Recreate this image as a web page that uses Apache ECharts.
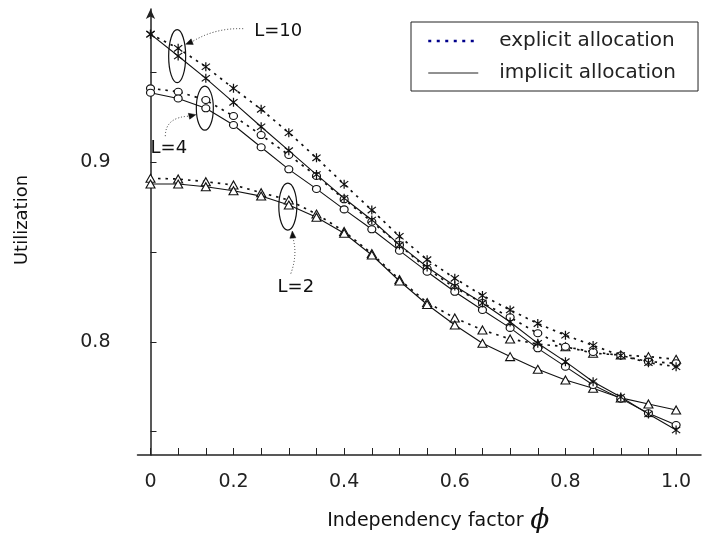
<!DOCTYPE html>
<html><head><meta charset="utf-8">
<script src="https://cdn.jsdelivr.net/npm/echarts@6/dist/echarts.min.js"></script>
<style>html,body{margin:0;padding:0;background:#fff}#c{width:709px;height:533px}</style>
</head><body><div id="c"></div>
<script>
// sample positions along the x axis (one tick per sample)
const samples = [0,1,2,3,4,5,6,7,8,9,10,11,12,13,14,15,16,17,18,19];
const xTickLabels = ['0','0.2','0.4','0.6','0.8','1.0'];
const xTickLabelAt = [0,3,7,11,15,19];
const yTicks = [0.75,0.8,0.85,0.9,0.95];
const yTickLabels = [0.8,0.9];

const l10Explicit = [0.9714,0.9635,0.9532,0.9412,0.9295,0.9165,0.9025,0.8878,0.8734,0.8588,0.8458,0.8354,0.8258,0.8178,0.8102,0.8037,0.7980,0.7924,0.7884,0.7862];
const l10Implicit = [0.9714,0.9592,0.9468,0.9334,0.9198,0.9065,0.8932,0.8800,0.8679,0.8540,0.8417,0.8311,0.8217,0.8111,0.7992,0.7890,0.7778,0.7693,0.7598,0.7509];
const l4Explicit  = [0.9412,0.9393,0.9347,0.9258,0.9152,0.9041,0.8924,0.8794,0.8669,0.8540,0.8407,0.8302,0.8217,0.8137,0.8048,0.7973,0.7944,0.7924,0.7890,0.7881];
const l4Implicit  = [0.9388,0.9356,0.9301,0.9208,0.9084,0.8961,0.8852,0.8738,0.8627,0.8508,0.8391,0.8279,0.8178,0.8078,0.7964,0.7862,0.7760,0.7684,0.7602,0.7537];
const l2Explicit  = [0.8911,0.8907,0.8892,0.8874,0.8831,0.8790,0.8712,0.8615,0.8492,0.8347,0.8219,0.8133,0.8066,0.8016,0.7988,0.7973,0.7937,0.7927,0.7918,0.7903];
const l2Implicit  = [0.8879,0.8879,0.8864,0.8842,0.8812,0.8762,0.8694,0.8605,0.8484,0.8339,0.8208,0.8094,0.7992,0.7918,0.7847,0.7788,0.7742,0.7688,0.7654,0.7621];

const seriesNames = ['explicit allocation','implicit allocation'];
const groupLabels = ['L=10','L=4','L=2'];

const FONT = 'DejaVu Sans';
const INK = '#111';
const asterisk = 'path://M4.4 0H5.6V10H4.4Z M1.395 1.049L9.395 8.049L8.605 8.951L0.605 1.951Z M0.605 8.049L8.605 1.049L9.395 1.951L1.395 8.951Z';

function mk(name, vals, symbol, size, dashed, hollow){
  return {
    name: name, type:'line', data: samples.map((k,i)=>[k, vals[i]]),
    symbol: symbol, symbolSize: size, showAllSymbol: true,
    lineStyle: {color: INK, width: dashed ? 1.7 : 1.1, type: dashed ? [2.5,5] : 'solid'},
    itemStyle: hollow ? {color:'#fff', borderColor: INK, borderWidth: 1.1} : {color: INK},
    emphasis: {disabled: true}, animation: false
  };
}

const chart = echarts.init(document.getElementById('c'), null, {renderer:'canvas'});
chart.setOption({
  backgroundColor:'#fff',
  animation:false,
  grid:{left:137.5, right:8, top:9, bottom:78, containLabel:false, outerBoundsMode:'none'},
  legend:{
    orient:'vertical', left:411, top:22,
    padding:[9,22,8,16], itemWidth:50, itemHeight:14, itemGap:12,
    borderColor:'#222', borderWidth:1,
    itemStyle:{opacity:0},
    textStyle:{fontFamily:FONT, fontSize:20, color:'#222', padding:[0,0,0,16]},
    selectedMode:false,
    data:[
      {name:seriesNames[0], lineStyle:{color:'#00008b', type:[3,5.5], width:2.5}},
      {name:seriesNames[1], lineStyle:{color:'#222', type:'solid', width:1}}
    ]
  },
  xAxis:{
    type:'value', min:-0.47, max:19.9,
    name:'{t|Independency factor}  {p|ϕ}', nameLocation:'middle', nameGap:52,
    nameTextStyle:{padding:[0,0,0,38], rich:{
      t:{fontFamily:FONT, fontSize:19, color:'#111'},
      p:{fontFamily:'DejaVu Serif', fontStyle:'italic', fontSize:28, color:'#111'}
    }},
    axisLine:{lineStyle:{color:'#222', width:1.5}},
    axisTick:{inside:true, length:7, customValues:samples, lineStyle:{color:'#222', width:1}},
    axisLabel:{customValues:xTickLabelAt, margin:18, fontFamily:FONT, fontSize:19, color:'#222',
      formatter:(v)=>{const i = xTickLabelAt.indexOf(Math.round(v)); return i>=0 ? xTickLabels[i] : '';}},
    splitLine:{show:false}
  },
  yAxis:{
    type:'value', min:0.737, max:0.9854,
    name:'Utilization', nameLocation:'middle', nameGap:106, nameRotate:90,
    nameTextStyle:{fontFamily:FONT, fontSize:18, color:'#111', padding:[0,0,0,24]},
    axisLine:{show:true, symbol:['none','arrow'], symbolSize:[7,10], lineStyle:{color:'#222', width:1.5}},
    axisTick:{inside:true, length:6, customValues:yTicks, lineStyle:{color:'#222', width:1}},
    axisLabel:{customValues:yTickLabels, margin:27, fontFamily:FONT, fontSize:19, color:'#222',
      formatter:(v)=>v.toFixed(1)},
    splitLine:{show:false}
  },
  series:[
    mk(seriesNames[0], l2Explicit, 'triangle', [9,8], true, true),
    mk(seriesNames[1], l2Implicit, 'triangle', [9,8], false, true),
    mk(seriesNames[0], l4Explicit, 'circle', [8,7], true, true),
    mk(seriesNames[1], l4Implicit, 'circle', [8,7], false, true),
    mk(seriesNames[0], l10Explicit, asterisk, 9, true, false),
    mk(seriesNames[1], l10Implicit, asterisk, 9, false, false)
  ]
});

// annotations: ellipses around a pair of points, with dotted arrows to labels
function P(k, v){ return chart.convertToPixel({xAxisIndex:0, yAxisIndex:0}, [k, v]); }
function arrowHead(tip, from){
  const dx = tip[0]-from[0], dy = tip[1]-from[1], d = Math.hypot(dx,dy);
  const ux = dx/d, uy = dy/d, len = 7, half = 3;
  const bx = tip[0]-ux*len, by = tip[1]-uy*len;
  return [[tip[0],tip[1]],[bx-uy*half, by+ux*half],[bx+uy*half, by-ux*half]];
}
const anns = [
  {k:1, a:l10Explicit, b:l10Implicit, label:groupLabels[0], rx:8.5, ry:26.5,
   text:[101,-25], start:[66,-27.5], cp:[38,-28.5], end:[15,-14.5], tip:[8.5,-12]},
  {k:2, a:l4Explicit, b:l4Implicit, label:groupLabels[1], rx:8.5, ry:22,
   text:[-36,40], start:[-39.5,28], cp:[-39.5,9], end:[-15.5,8], tip:[-9,6.5]},
  {k:5, a:l2Explicit, b:l2Implicit, label:groupLabels[2], rx:9, ry:23.5,
   text:[8,81], start:[3,67], cp:[10,48], end:[5,31], tip:[4.5,24.5]}
];
const graphics = [];
anns.forEach(an=>{
  const c0 = P(an.k, (an.a[an.k]+an.b[an.k])/2);
  const c = [c0[0]-1, c0[1]+4];
  const o = (d)=>[c[0]+d[0], c[1]+d[1]];
  graphics.push({type:'ellipse', shape:{cx:c[0], cy:c[1], rx:an.rx, ry:an.ry}, style:{fill:'none', stroke:'#111', lineWidth:1.2}, z:100});
  const s = o(an.start), cp = o(an.cp), e = o(an.end), t = o(an.tip);
  graphics.push({type:'bezierCurve', shape:{x1:s[0], y1:s[1], cpx1:cp[0], cpy1:cp[1], x2:e[0], y2:e[1]}, style:{fill:'none', stroke:'#333', lineWidth:1, lineDash:[1,2]}, z:100});
  graphics.push({type:'polygon', shape:{points:arrowHead(t, e)}, style:{fill:'#111', stroke:'#111', lineWidth:0.5}, z:100});
  const tp = o(an.text);
  graphics.push({type:'text', x:tp[0], y:tp[1], style:{text:an.label, fontFamily:FONT, fontSize:18, fill:'#111', align:'center', verticalAlign:'middle'}, z:100});
});
chart.setOption({graphic:graphics});
</script>
</body></html>
